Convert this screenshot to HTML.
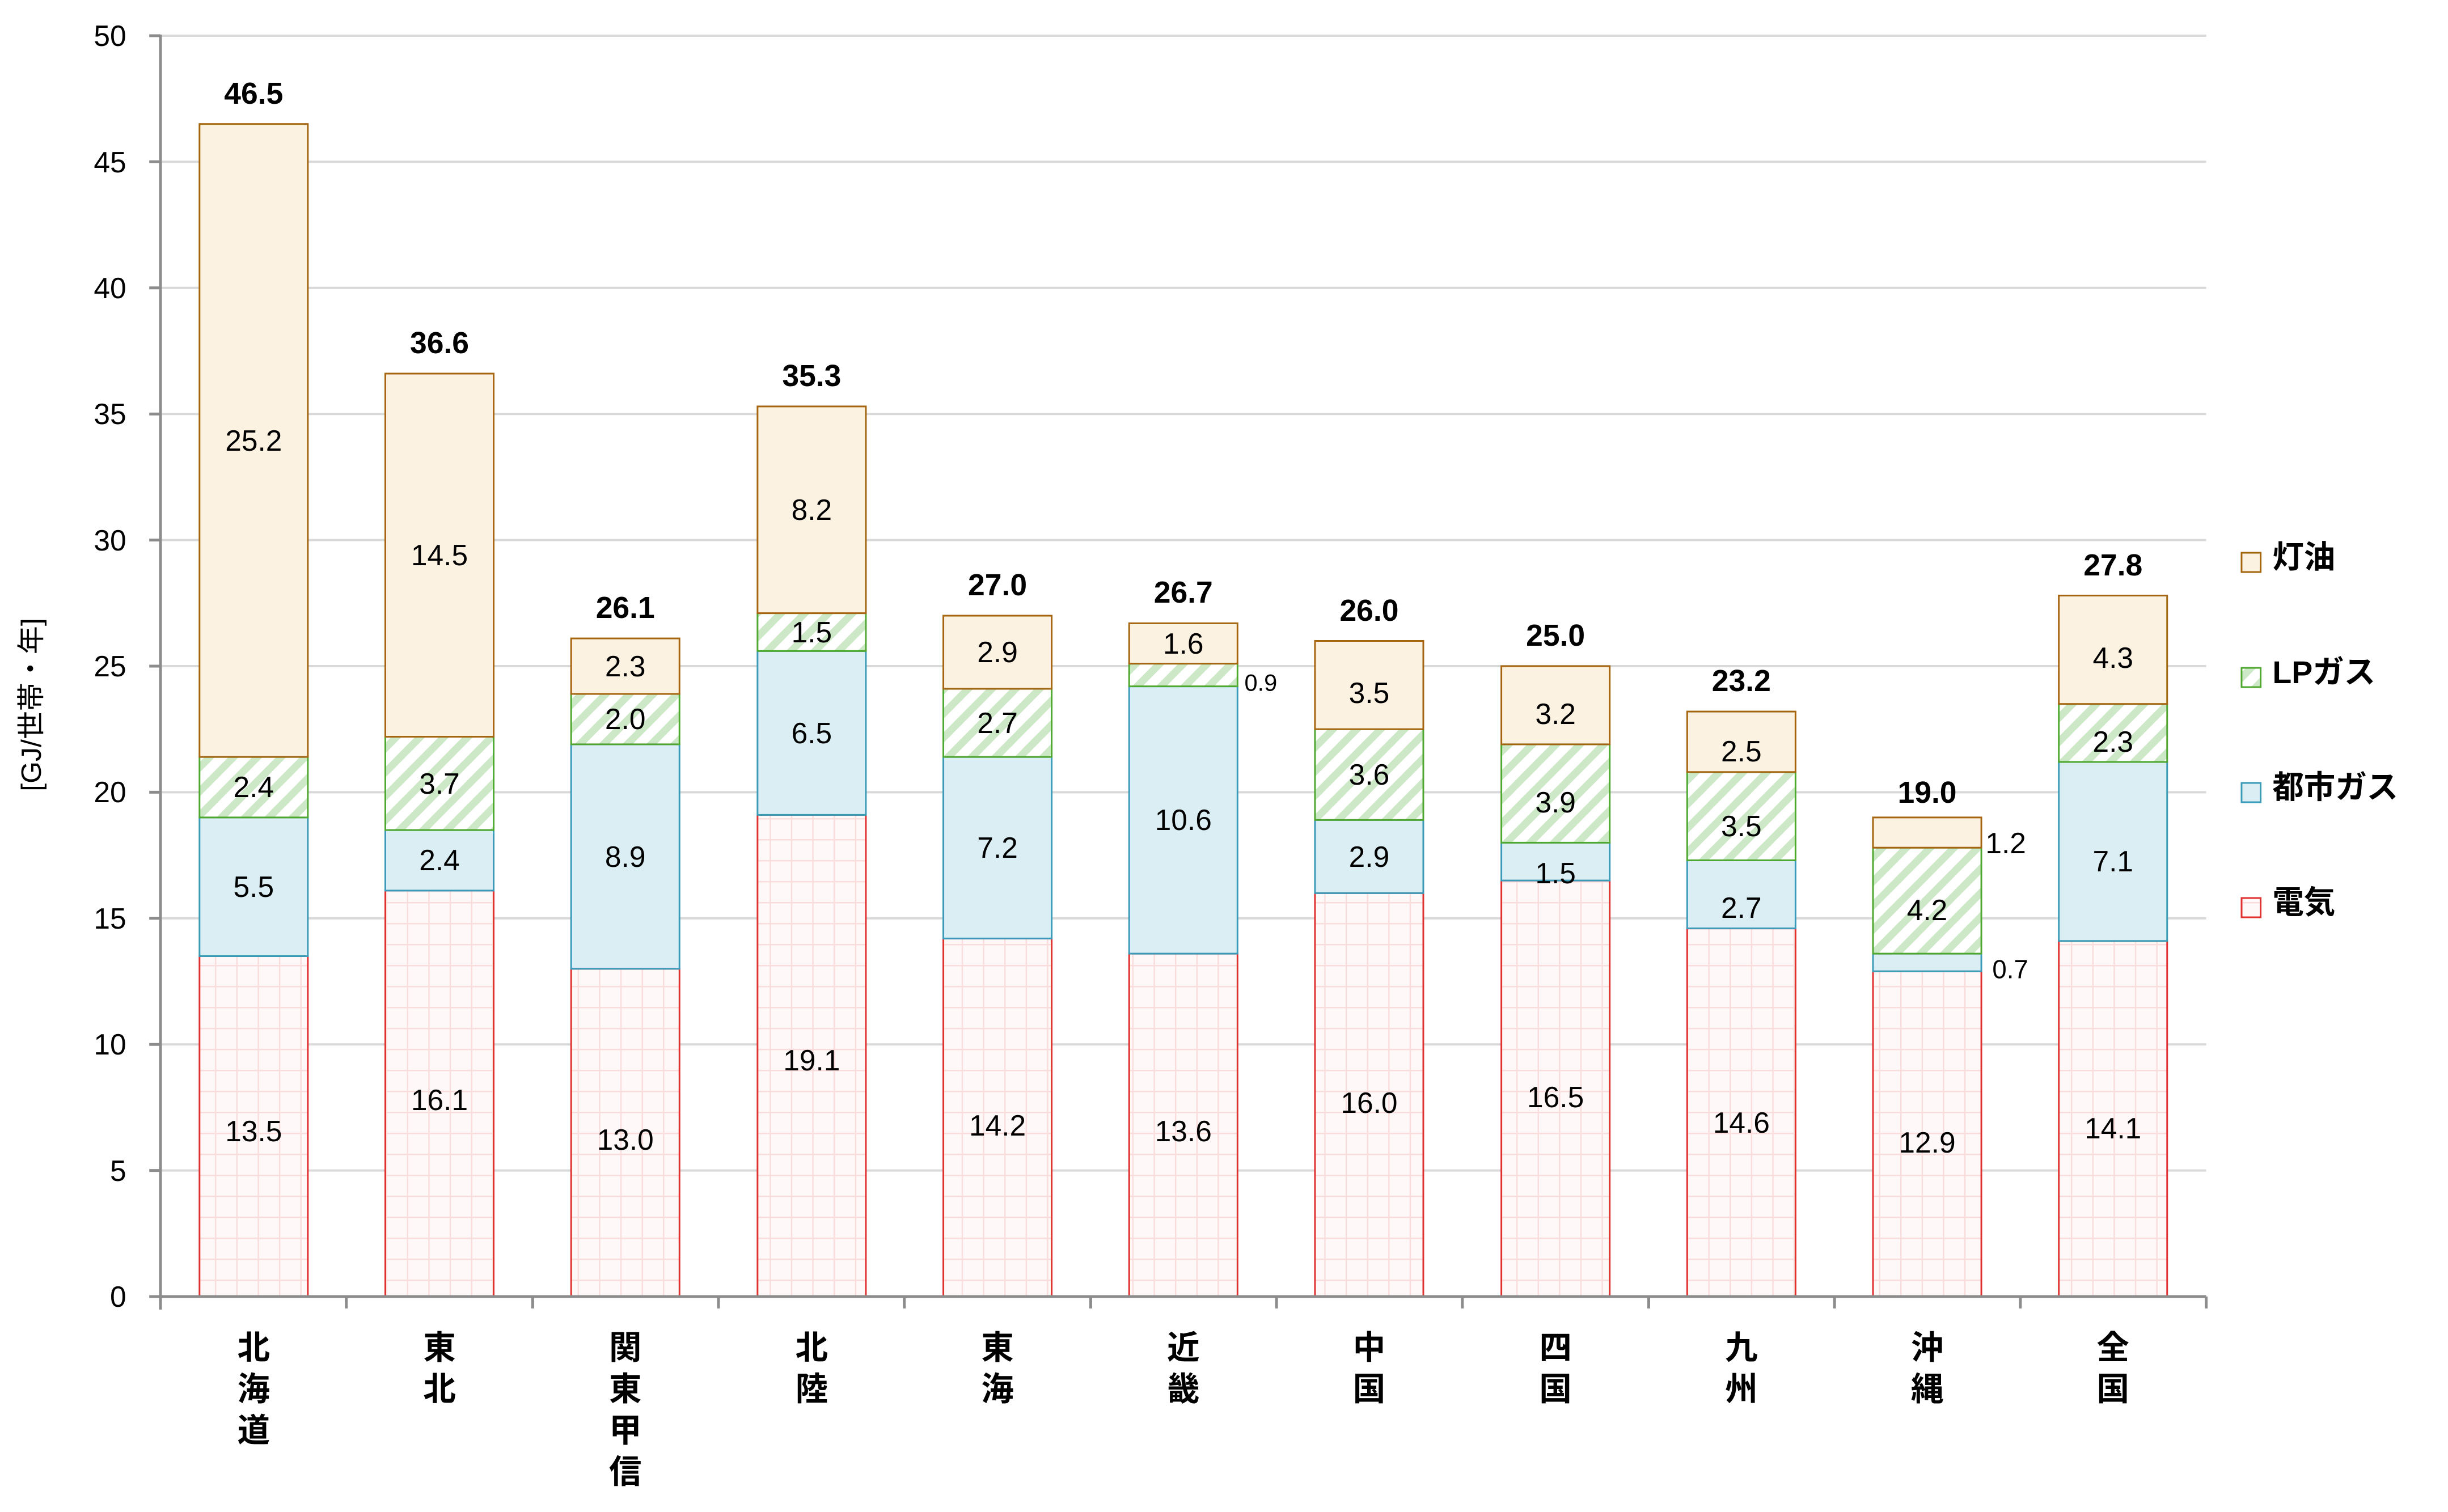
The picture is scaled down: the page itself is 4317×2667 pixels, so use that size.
<!DOCTYPE html>
<html><head><meta charset="utf-8"><style>html,body{margin:0;padding:0;background:#fff}</style></head><body>
<svg width="4317" height="2662" viewBox="0 0 4317 2662" xmlns="http://www.w3.org/2000/svg" font-family="Liberation Sans, Noto Sans CJK JP, sans-serif">
<defs>
<pattern id="pe" width="38" height="37" patternUnits="userSpaceOnUse"><rect width="38" height="37" fill="#FFF8F8"/><path d="M0 0H38M0 0V37" stroke="#F9DCDC" stroke-width="5"/></pattern>
<pattern id="pl" width="30" height="30" patternUnits="userSpaceOnUse" patternTransform="rotate(45)"><rect width="30" height="30" fill="#fff"/><rect width="13" height="30" fill="#CDE8C6"/></pattern>
</defs>
<g transform="translate(283,0) scale(0.99,1) translate(-283,0)">
<g stroke="#D9D9D9" stroke-width="4">
<line x1="283" x2="3927" y1="2064.6" y2="2064.6"/><line x1="283" x2="3927" y1="1842.2" y2="1842.2"/><line x1="283" x2="3927" y1="1619.8" y2="1619.8"/><line x1="283" x2="3927" y1="1397.4" y2="1397.4"/><line x1="283" x2="3927" y1="1175" y2="1175"/><line x1="283" x2="3927" y1="952.6" y2="952.6"/><line x1="283" x2="3927" y1="730.2" y2="730.2"/><line x1="283" x2="3927" y1="507.8" y2="507.8"/><line x1="283" x2="3927" y1="285.4" y2="285.4"/><line x1="283" x2="3927" y1="63" y2="63"/>
</g>
<g font-size="52" text-anchor="end" fill="#000">
<text x="222" y="2305">0</text><text x="222" y="2083">5</text><text x="222" y="1860">10</text><text x="222" y="1638">15</text><text x="222" y="1415">20</text><text x="222" y="1193">25</text><text x="222" y="971">30</text><text x="222" y="748">35</text><text x="222" y="526">40</text><text x="222" y="304">45</text><text x="222" y="81">50</text>
</g>
<text transform="translate(70,1243) rotate(-90)" font-size="50" text-anchor="middle">[GJ/世帯・年]</text>

<g stroke-width="3">
<rect x="352.5" y="1686.5" width="193" height="600.5" fill="url(#pe)" stroke="#E0302F"/>
<rect x="352.5" y="1441.9" width="193" height="244.6" fill="#DAEEF3" stroke="#3A9AB8"/>
<rect x="352.5" y="1335.1" width="193" height="106.8" fill="url(#pl)" stroke="#4EA72E"/>
<rect x="352.5" y="218.7" width="193" height="1116.4" fill="#FCF2E2" stroke="#A5650F"/>
<rect x="683.5" y="1570.9" width="193" height="716.1" fill="url(#pe)" stroke="#E0302F"/>
<rect x="683.5" y="1464.1" width="193" height="106.8" fill="#DAEEF3" stroke="#3A9AB8"/>
<rect x="683.5" y="1299.5" width="193" height="164.6" fill="url(#pl)" stroke="#4EA72E"/>
<rect x="683.5" y="659" width="193" height="640.5" fill="#FCF2E2" stroke="#A5650F"/>
<rect x="1014.5" y="1708.8" width="193" height="578.2" fill="url(#pe)" stroke="#E0302F"/>
<rect x="1014.5" y="1312.9" width="193" height="395.9" fill="#DAEEF3" stroke="#3A9AB8"/>
<rect x="1014.5" y="1224" width="193" height="88.9" fill="url(#pl)" stroke="#4EA72E"/>
<rect x="1014.5" y="1126.1" width="193" height="97.9" fill="#FCF2E2" stroke="#A5650F"/>
<rect x="1346.5" y="1437.4" width="193" height="849.6" fill="url(#pe)" stroke="#E0302F"/>
<rect x="1346.5" y="1148.3" width="193" height="289.1" fill="#DAEEF3" stroke="#3A9AB8"/>
<rect x="1346.5" y="1081.6" width="193" height="66.7" fill="url(#pl)" stroke="#4EA72E"/>
<rect x="1346.5" y="716.9" width="193" height="364.7" fill="#FCF2E2" stroke="#A5650F"/>
<rect x="1677.5" y="1655.4" width="193" height="631.6" fill="url(#pe)" stroke="#E0302F"/>
<rect x="1677.5" y="1335.1" width="193" height="320.3" fill="#DAEEF3" stroke="#3A9AB8"/>
<rect x="1677.5" y="1215" width="193" height="120.1" fill="url(#pl)" stroke="#4EA72E"/>
<rect x="1677.5" y="1086" width="193" height="129" fill="#FCF2E2" stroke="#A5650F"/>
<rect x="2008.5" y="1682.1" width="193" height="604.9" fill="url(#pe)" stroke="#E0302F"/>
<rect x="2008.5" y="1210.6" width="193" height="471.5" fill="#DAEEF3" stroke="#3A9AB8"/>
<rect x="2008.5" y="1170.6" width="193" height="40" fill="url(#pl)" stroke="#4EA72E"/>
<rect x="2008.5" y="1099.4" width="193" height="71.2" fill="#FCF2E2" stroke="#A5650F"/>
<rect x="2339.5" y="1575.3" width="193" height="711.7" fill="url(#pe)" stroke="#E0302F"/>
<rect x="2339.5" y="1446.3" width="193" height="129" fill="#DAEEF3" stroke="#3A9AB8"/>
<rect x="2339.5" y="1286.2" width="193" height="160.1" fill="url(#pl)" stroke="#4EA72E"/>
<rect x="2339.5" y="1130.5" width="193" height="155.7" fill="#FCF2E2" stroke="#A5650F"/>
<rect x="2671.5" y="1553.1" width="193" height="733.9" fill="url(#pe)" stroke="#E0302F"/>
<rect x="2671.5" y="1486.4" width="193" height="66.7" fill="#DAEEF3" stroke="#3A9AB8"/>
<rect x="2671.5" y="1312.9" width="193" height="173.5" fill="url(#pl)" stroke="#4EA72E"/>
<rect x="2671.5" y="1175" width="193" height="137.9" fill="#FCF2E2" stroke="#A5650F"/>
<rect x="3002.5" y="1637.6" width="193" height="649.4" fill="url(#pe)" stroke="#E0302F"/>
<rect x="3002.5" y="1517.5" width="193" height="120.1" fill="#DAEEF3" stroke="#3A9AB8"/>
<rect x="3002.5" y="1361.8" width="193" height="155.7" fill="url(#pl)" stroke="#4EA72E"/>
<rect x="3002.5" y="1255.1" width="193" height="106.7" fill="#FCF2E2" stroke="#A5650F"/>
<rect x="3333.5" y="1713.2" width="193" height="573.8" fill="url(#pe)" stroke="#E0302F"/>
<rect x="3333.5" y="1682.1" width="193" height="31.1" fill="#DAEEF3" stroke="#3A9AB8"/>
<rect x="3333.5" y="1495.2" width="193" height="186.9" fill="url(#pl)" stroke="#4EA72E"/>
<rect x="3333.5" y="1441.9" width="193" height="53.3" fill="#FCF2E2" stroke="#A5650F"/>
<rect x="3664.5" y="1659.8" width="193" height="627.2" fill="url(#pe)" stroke="#E0302F"/>
<rect x="3664.5" y="1344" width="193" height="315.8" fill="#DAEEF3" stroke="#3A9AB8"/>
<rect x="3664.5" y="1241.7" width="193" height="102.3" fill="url(#pl)" stroke="#4EA72E"/>
<rect x="3664.5" y="1050.5" width="193" height="191.2" fill="#FCF2E2" stroke="#A5650F"/>
</g>

<g stroke="#8C8C8C" stroke-width="5">
<line x1="283" y1="61" x2="283" y2="2310"/>
<line x1="263" y1="2287" x2="3927" y2="2287"/>
<line x1="263" y1="63" x2="283" y2="63"/><line x1="263" y1="285.4" x2="283" y2="285.4"/><line x1="263" y1="507.8" x2="283" y2="507.8"/><line x1="263" y1="730.2" x2="283" y2="730.2"/><line x1="263" y1="952.6" x2="283" y2="952.6"/><line x1="263" y1="1175" x2="283" y2="1175"/><line x1="263" y1="1397.4" x2="283" y2="1397.4"/><line x1="263" y1="1619.8" x2="283" y2="1619.8"/><line x1="263" y1="1842.2" x2="283" y2="1842.2"/><line x1="263" y1="2064.6" x2="283" y2="2064.6"/>
<line x1="614" y1="2287" x2="614" y2="2308"/><line x1="946" y1="2287" x2="946" y2="2308"/><line x1="1277" y1="2287" x2="1277" y2="2308"/><line x1="1608" y1="2287" x2="1608" y2="2308"/><line x1="1940" y1="2287" x2="1940" y2="2308"/><line x1="2271" y1="2287" x2="2271" y2="2308"/><line x1="2602" y1="2287" x2="2602" y2="2308"/><line x1="2934" y1="2287" x2="2934" y2="2308"/><line x1="3265" y1="2287" x2="3265" y2="2308"/><line x1="3596" y1="2287" x2="3596" y2="2308"/><line x1="3927" y1="2287" x2="3927" y2="2308"/>
</g>

<g font-size="52" text-anchor="middle" dominant-baseline="central" fill="#000">
<text x="449" y="1995">13.5</text><text x="449" y="1564">5.5</text><text x="449" y="1388">2.4</text><text x="449" y="777">25.2</text>
<text x="780" y="1940">16.1</text><text x="780" y="1517">2.4</text><text x="780" y="1382">3.7</text><text x="780" y="979">14.5</text>
<text x="1111" y="2010">13.0</text><text x="1111" y="1511">8.9</text><text x="1111" y="1268">2.0</text><text x="1111" y="1175">2.3</text>
<text x="1443" y="1870">19.1</text><text x="1443" y="1293">6.5</text><text x="1443" y="1115">1.5</text><text x="1443" y="899">8.2</text>
<text x="1774" y="1985">14.2</text><text x="1774" y="1495">7.2</text><text x="1774" y="1275">2.7</text><text x="1774" y="1150">2.9</text>
<text x="2105" y="1995">13.6</text><text x="2105" y="1446">10.6</text><text x="2105" y="1135">1.6</text>
<text x="2436" y="1945">16.0</text><text x="2436" y="1511">2.9</text><text x="2436" y="1366">3.6</text><text x="2436" y="1222">3.5</text>
<text x="2768" y="1935">16.5</text><text x="2768" y="1540">1.5</text><text x="2768" y="1415">3.9</text><text x="2768" y="1259">3.2</text>
<text x="3099" y="1980">14.6</text><text x="3099" y="1601">2.7</text><text x="3099" y="1457">3.5</text><text x="3099" y="1325">2.5</text>
<text x="3430" y="2015">12.9</text><text x="3430" y="1605">4.2</text>
<text x="3761" y="1990">14.1</text><text x="3761" y="1519">7.1</text><text x="3761" y="1308">2.3</text><text x="3761" y="1160">4.3</text>
<text x="2243" y="1204" font-size="42">0.9</text>
<text x="3570" y="1487">1.2</text>
<text x="3578" y="1710" font-size="46">0.7</text>
</g>
<g font-size="54" font-weight="bold" text-anchor="middle" dominant-baseline="central" fill="#000">
<text x="449" y="165">46.5</text><text x="780" y="605">36.6</text><text x="1111" y="1072">26.1</text><text x="1443" y="663">35.3</text><text x="1774" y="1032">27.0</text><text x="2105" y="1045">26.7</text><text x="2436" y="1077">26.0</text><text x="2768" y="1121">25.0</text><text x="3099" y="1201">23.2</text><text x="3430" y="1398">19.0</text><text x="3761" y="997">27.8</text>
</g>
<g font-size="58" font-weight="bold" text-anchor="middle" fill="#000" font-family="Noto Sans CJK JP, sans-serif">
<text x="449" y="2397">北</text><text x="449" y="2470">海</text><text x="449" y="2543">道</text>
<text x="780" y="2397">東</text><text x="780" y="2470">北</text>
<text x="1111" y="2397">関</text><text x="1111" y="2470">東</text><text x="1111" y="2543">甲</text><text x="1111" y="2616">信</text>
<text x="1443" y="2397">北</text><text x="1443" y="2470">陸</text>
<text x="1774" y="2397">東</text><text x="1774" y="2470">海</text>
<text x="2105" y="2397">近</text><text x="2105" y="2470">畿</text>
<text x="2436" y="2397">中</text><text x="2436" y="2470">国</text>
<text x="2768" y="2397">四</text><text x="2768" y="2470">国</text>
<text x="3099" y="2397">九</text><text x="3099" y="2470">州</text>
<text x="3430" y="2397">沖</text><text x="3430" y="2470">縄</text>
<text x="3761" y="2397">全</text><text x="3761" y="2470">国</text>
</g>
<g stroke-width="3">
<rect x="3990" y="975" width="34" height="34" fill="#FCF2E2" stroke="#A5650F"/>
<rect x="3990" y="1178" width="34" height="34" fill="url(#pl)" stroke="#4EA72E"/>
<rect x="3990" y="1381" width="34" height="34" fill="#DAEEF3" stroke="#3A9AB8"/>
<rect x="3990" y="1584" width="34" height="34" fill="url(#pe)" stroke="#E0302F"/>
</g>
<g font-size="56" font-weight="bold" fill="#000" dominant-baseline="central">
<text x="4045" y="983">灯油</text>
<text x="4045" y="1186">LPガス</text>
<text x="4045" y="1389">都市ガス</text>
<text x="4045" y="1592">電気</text>
</g>
</g>
</svg>
</body></html>
